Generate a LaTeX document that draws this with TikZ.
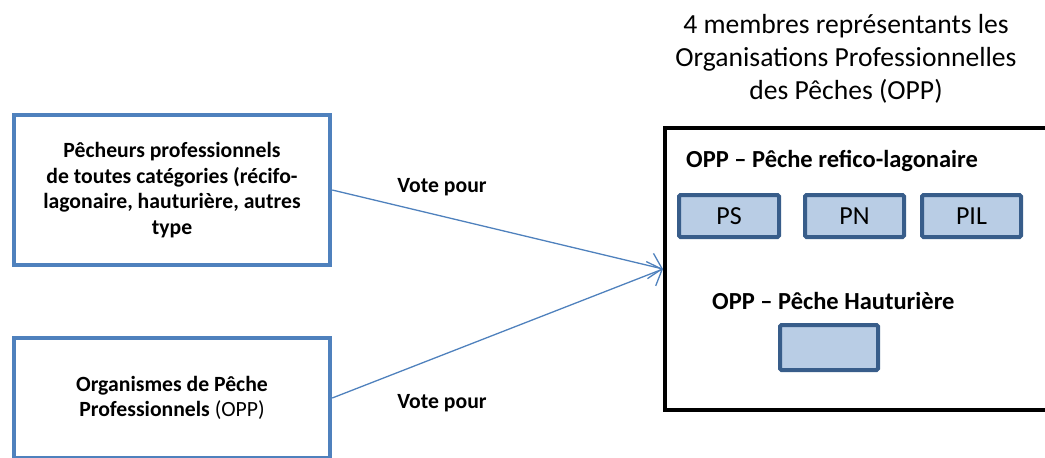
\documentclass[tikz,border=0pt]{standalone}
\usepackage{fontspec}
\setmainfont{Carlito}
\usetikzlibrary{arrows.meta}

\definecolor{bleuoffice}{HTML}{4F81BD}
\definecolor{bleufonce}{HTML}{385D8A}
\definecolor{bleuclair}{HTML}{B9CDE5}

\tikzset{
  electeur/.style = {draw=bleuoffice, line width=4.5pt, inner sep=0pt,
                     align=center, font=\bfseries\fontsize{21.7}{25.5}\selectfont},
  membre/.style   = {draw=bleufonce, fill=bleuclair, line width=4pt, rounded corners=1.5pt,
                     inner sep=0pt, minimum height=42pt, font=\fontsize{26}{31}\selectfont},
  vote/.style     = {draw=bleuoffice, line width=1.3pt,
                     -{Straight Barb[length=12pt,width=26pt,line width=1.3pt]}},
  etiquette/.style = {font=\bfseries\fontsize{21.7}{26}\selectfont}
}

\begin{document}
\begin{tikzpicture}[x=1pt,y=-1pt]
  % 画布
  \clip (0,0) rectangle (1045,458);

  % 左侧两个框
  \node[electeur, minimum width=316pt, minimum height=150pt] (pecheurs) at (172,190)
    {P\^echeurs professionnels\\ de toutes cat\'egories (r\'ecifo-\\ lagonaire, hauturi\`ere, autres\\ type};
  \node[electeur, minimum width=316pt, minimum height=120pt] (organismes) at (172,398)
    {Organismes de P\^eche\\ Professionnels {\mdseries(OPP)}};

  % 右侧大框与标题
  \node[draw, line width=4pt, inner sep=0pt, minimum width=400pt, minimum height=282pt]
    (opp) at (865,269) {};
  \node[align=center, font=\fontsize{27.6}{33}\selectfont] (titre) at (846,59)
    {4 membres repr\'esentants les\\ Organisations Professionnelles\\ des P\^eches (OPP)};

  % 小标题
  \node[anchor=west, inner sep=0pt, font=\bfseries\fontsize{24.5}{29}\selectfont]
    (lagon) at (686,161) {OPP -- P\^eche refico-lagonaire};
  \node[anchor=west, inner sep=0pt, font=\bfseries\fontsize{24.5}{29}\selectfont]
    (haute) at (712,301) {OPP -- P\^eche Hauturi\`ere};

  % 成员框
  \node[membre, minimum width=100pt] (ps)  at (729,216)   {PS};
  \node[membre, minimum width=99pt]  (pn)  at (854.5,216) {PN};
  \node[membre, minimum width=99pt]  (pil) at (971.5,216) {PIL};
  \node[membre, minimum width=98pt, minimum height=45pt] (vide) at (829,347.5) {};

  % 箭头
  \draw[vote] (pecheurs.east) -- (opp.west);
  \draw[vote] (organismes.east) -- (opp.west);
  \node[etiquette] (vote1) at (442,187) {Vote pour};
  \node[etiquette] (vote2) at (442,403) {Vote pour};
\end{tikzpicture}
\end{document}
